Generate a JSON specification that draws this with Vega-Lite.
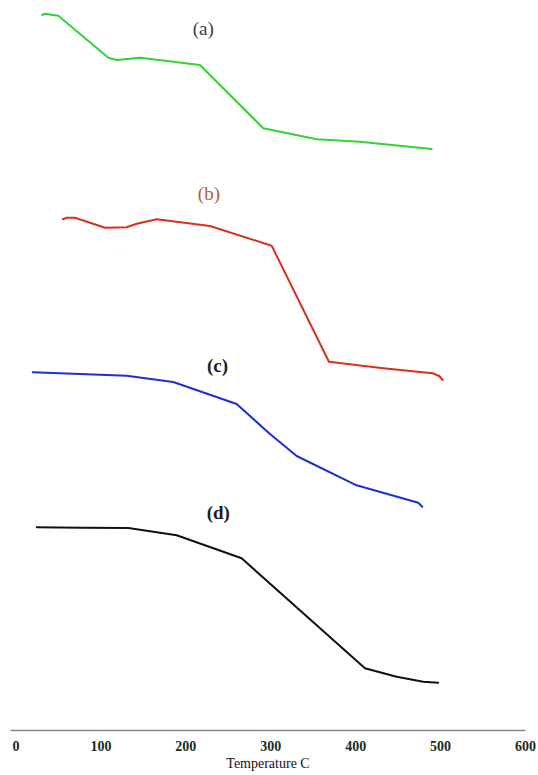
{
  "$schema": "https://vega.github.io/schema/vega-lite/v6.json",
  "width": 515,
  "height": 730,
  "autosize": "none",
  "padding": {"left": 10, "top": 0, "right": 13, "bottom": 45},
  "background": "white",
  "config": {"view": {"stroke": null}},
  "datasets": {
    "curves": [
      {"sample": "a", "temp": 31.6, "offset": 715},
      {"sample": "a", "temp": 34.7, "offset": 716.3},
      {"sample": "a", "temp": 50.4, "offset": 714.3},
      {"sample": "a", "temp": 109.3, "offset": 672.3},
      {"sample": "a", "temp": 119.2, "offset": 670},
      {"sample": "a", "temp": 146.6, "offset": 672.3},
      {"sample": "a", "temp": 217.2, "offset": 665},
      {"sample": "a", "temp": 291.8, "offset": 601.7},
      {"sample": "a", "temp": 354.6, "offset": 590.7},
      {"sample": "a", "temp": 405.6, "offset": 588.3},
      {"sample": "a", "temp": 490.1, "offset": 581},
      {"sample": "b", "temp": 55.6, "offset": 510.7},
      {"sample": "b", "temp": 60.3, "offset": 512.3},
      {"sample": "b", "temp": 70.1, "offset": 512.3},
      {"sample": "b", "temp": 105.4, "offset": 502.3},
      {"sample": "b", "temp": 130.9, "offset": 502.7},
      {"sample": "b", "temp": 142.7, "offset": 506.3},
      {"sample": "b", "temp": 166.3, "offset": 510.7},
      {"sample": "b", "temp": 229.0, "offset": 504},
      {"sample": "b", "temp": 301.7, "offset": 484.3},
      {"sample": "b", "temp": 369.1, "offset": 368.3},
      {"sample": "b", "temp": 433.1, "offset": 361.7},
      {"sample": "b", "temp": 491.2, "offset": 356.7},
      {"sample": "b", "temp": 499.0, "offset": 354},
      {"sample": "b", "temp": 503.0, "offset": 350},
      {"sample": "c", "temp": 20.3, "offset": 357.7},
      {"sample": "c", "temp": 107.4, "offset": 355},
      {"sample": "c", "temp": 130.9, "offset": 354.3},
      {"sample": "c", "temp": 185.8, "offset": 348},
      {"sample": "c", "temp": 260.4, "offset": 326},
      {"sample": "c", "temp": 299.7, "offset": 296},
      {"sample": "c", "temp": 331.1, "offset": 274},
      {"sample": "c", "temp": 401.7, "offset": 244.7},
      {"sample": "c", "temp": 474.3, "offset": 227.3},
      {"sample": "c", "temp": 479.0, "offset": 223.3},
      {"sample": "d", "temp": 25.0, "offset": 202.7},
      {"sample": "d", "temp": 79.8, "offset": 202.3},
      {"sample": "d", "temp": 132.8, "offset": 202},
      {"sample": "d", "temp": 189.8, "offset": 194.7},
      {"sample": "d", "temp": 266.3, "offset": 171.7},
      {"sample": "d", "temp": 411.5, "offset": 61.7},
      {"sample": "d", "temp": 448.8, "offset": 53.3},
      {"sample": "d", "temp": 480.2, "offset": 48.3},
      {"sample": "d", "temp": 497.8, "offset": 47.3}
    ],
    "labels": [
      {"sample": "a", "text": "(a)", "temp": 221.1, "offset": 701, "bold": false},
      {"sample": "b", "text": "(b)", "temp": 227.8, "offset": 535.7, "bold": false},
      {"sample": "c", "text": "(c)", "temp": 237.8, "offset": 364.5, "bold": true},
      {"sample": "d", "text": "(d)", "temp": 238.8, "offset": 217.3, "bold": true}
    ]
  },
  "encoding": {
    "x": {
      "field": "temp",
      "type": "quantitative",
      "scale": {"domain": [-6.5, 600], "nice": false, "zero": false},
      "axis": {
        "title": "Temperature C",
        "values": [0, 100, 200, 300, 400, 500, 600],
        "grid": false,
        "ticks": false,
        "domainColor": "#8a8a8a",
        "domainWidth": 1.5,
        "labelFont": "Liberation Serif",
        "labelFontSize": 14,
        "labelFontWeight": "bold",
        "labelColor": "#1c2a1c",
        "labelPadding": 9,
        "labelFlush": false,
        "titleFont": "Liberation Serif",
        "titleFontSize": 14,
        "titleFontWeight": "normal",
        "titleColor": "#111111",
        "titlePadding": 3
      }
    },
    "y": {
      "field": "offset",
      "type": "quantitative",
      "scale": {"domain": [0, 730], "nice": false, "zero": false},
      "axis": null
    }
  },
  "layer": [
    {
      "data": {"name": "curves"},
      "mark": {"type": "line", "strokeWidth": 2, "strokeJoin": "round", "strokeCap": "round"},
      "encoding": {
        "color": {
          "field": "sample",
          "type": "nominal",
          "scale": {"domain": ["a", "b", "c", "d"], "range": ["#35d235", "#d8301c", "#1c2fd2", "#111111"]},
          "legend": null
        },
        "order": {"field": "temp", "type": "quantitative"}
      }
    },
    {
      "data": {"name": "labels"},
      "transform": [{"filter": "!datum.bold"}],
      "mark": {"type": "text", "font": "Liberation Serif", "fontSize": 19, "baseline": "middle", "align": "center"},
      "encoding": {
        "text": {"field": "text"},
        "color": {
          "field": "sample",
          "type": "nominal",
          "scale": {"domain": ["a", "b"], "range": ["#3a3a52", "#b9602e"]},
          "legend": null
        }
      }
    },
    {
      "data": {"name": "labels"},
      "transform": [{"filter": "datum.bold"}],
      "mark": {"type": "text", "font": "Liberation Serif", "fontSize": 19, "fontWeight": "bold", "baseline": "middle", "align": "center", "color": "#1e1e1e"},
      "encoding": {
        "text": {"field": "text"}
      }
    }
  ],
  "resolve": {"scale": {"color": "independent"}}
}
